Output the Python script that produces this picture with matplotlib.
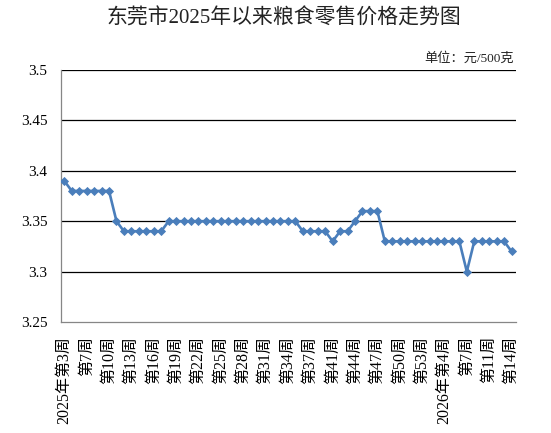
import matplotlib
matplotlib.use("Agg")
import matplotlib.pyplot as plt

# --- data ---
prices = [
    3.39,
    3.38, 3.38, 3.38, 3.38, 3.38, 3.38,
    3.35,
    3.34, 3.34, 3.34, 3.34, 3.34, 3.34,
    3.35, 3.35, 3.35, 3.35, 3.35, 3.35, 3.35, 3.35, 3.35,
    3.35, 3.35, 3.35, 3.35, 3.35, 3.35, 3.35, 3.35, 3.35,
    3.34, 3.34, 3.34, 3.34,
    3.33,
    3.34, 3.34,
    3.35,
    3.36, 3.36, 3.36,
    3.33, 3.33, 3.33, 3.33, 3.33, 3.33, 3.33, 3.33, 3.33, 3.33, 3.33,
    3.30,
    3.33, 3.33, 3.33, 3.33, 3.33,
    3.32,
]
tick_labels = [
    "2025年第3周", "第7周", "第10周", "第13周", "第16周", "第19周", "第22周",
    "第25周", "第28周", "第31周", "第34周", "第37周", "第41周", "第44周",
    "第47周", "第50周", "第53周", "2026年第4周", "第7周", "第11周", "第14周",
]
y_ticks = [3.25, 3.3, 3.35, 3.4, 3.45, 3.5]
y_tick_text = ["3.25", "3.3", "3.35", "3.4", "3.45", "3.5"]

FONT = ["Liberation Serif", "Noto Sans CJK SC", "DejaVu Sans"]
plt.rcParams["font.family"] = FONT

fig = plt.figure(figsize=(5.51, 4.33), dpi=100)
ax = fig.add_axes([0.1113, 0.2564, 0.8252, 0.5819])

x = list(range(len(prices)))
ax.plot(x, prices, color="#4A7EBB", linewidth=1.9, marker="D",
        markersize=3.9, markeredgewidth=0.6, zorder=3)

ax.set_ylim(3.25, 3.5)
ax.set_xlim(-0.4, 60.6)
ax.set_yticks(y_ticks)
ax.set_yticklabels(y_tick_text, fontsize=11)
ax.set_xticks(x[::3])
ax.set_xticklabels(tick_labels, rotation=90, fontsize=11.5, va="top", ha="center")
ax.tick_params(axis="y", length=0, pad=10)
ax.tick_params(axis="x", length=0, pad=10)

for v in y_ticks[1:]:
    ax.axhline(v, color="black", linewidth=0.9, zorder=1)

for s in ["top", "right"]:
    ax.spines[s].set_visible(False)
for s in ["left", "bottom"]:
    ax.spines[s].set_color("#868686")
    ax.spines[s].set_linewidth(0.9)

fig.text(0.515, 0.957, "东莞市2025年以来粮食零售价格走势图", ha="center", va="center",
         fontsize=15, color="#222222")
fig.text(0.932, 0.866, "单位：元/500克", ha="right", va="center", fontsize=9.5,
         color="#222222")

fig.savefig("out.png", dpi=100)
